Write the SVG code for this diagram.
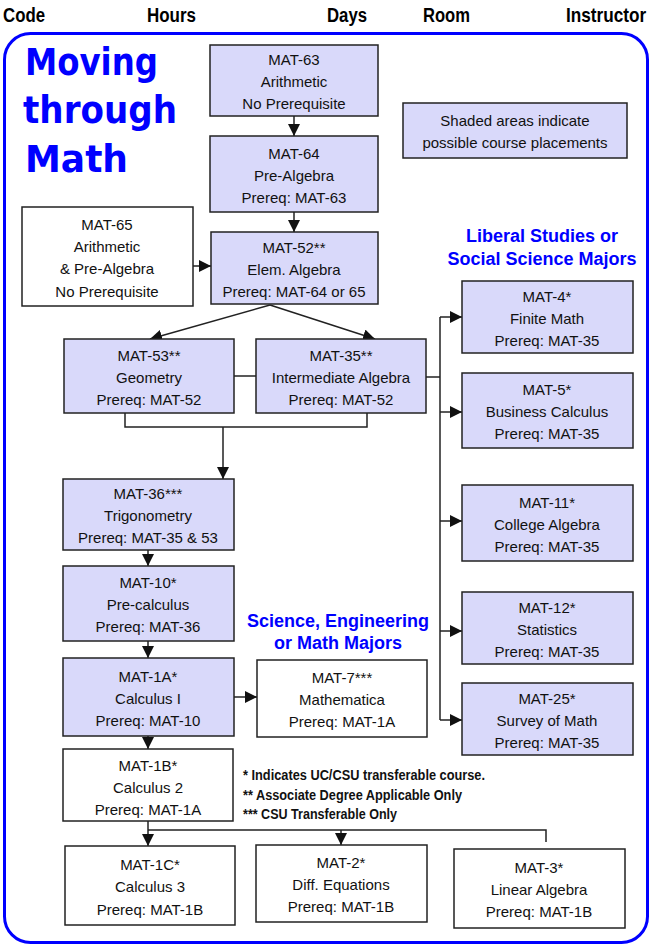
<svg xmlns="http://www.w3.org/2000/svg" width="654" height="949" viewBox="0 0 654 949">
<style>
.hdr{font-family:"Liberation Sans",Arial,Helvetica,sans-serif;font-weight:bold;font-size:20px;fill:#000}
.title{font-family:"Comic Sans MS","DejaVu Sans",sans-serif;font-weight:bold;font-size:37px;fill:#0000ff}
.major{font-family:"Liberation Sans",Arial,Helvetica,sans-serif;font-weight:bold;font-size:18px;fill:#0000ff;text-anchor:middle}
.box{stroke:#222;stroke-width:1.5}
.sh{fill:#d9d9fa}
.wh{fill:#fff}
.t{font-family:"Liberation Sans",Arial,Helvetica,sans-serif;font-size:15px;fill:#111;text-anchor:middle}
.note{font-family:"Liberation Sans",Arial,Helvetica,sans-serif;font-weight:bold;font-size:14px;fill:#111}
.c{fill:none;stroke:#222;stroke-width:1.5}
</style>
<defs>
<marker id="ah" viewBox="0 0 12 12" refX="12" refY="6" markerWidth="12" markerHeight="12" markerUnits="userSpaceOnUse" orient="auto">
<path d="M0,0 L12,6 L0,12 z" fill="#111"/>
</marker>
</defs>
<rect width="654" height="949" fill="#fff"/>
<g id="header">
<text class="hdr" x="3" y="22" textLength="42" lengthAdjust="spacingAndGlyphs">Code</text>
<text class="hdr" x="147" y="22" textLength="49" lengthAdjust="spacingAndGlyphs">Hours</text>
<text class="hdr" x="327" y="22" textLength="40" lengthAdjust="spacingAndGlyphs">Days</text>
<text class="hdr" x="423" y="22" textLength="47" lengthAdjust="spacingAndGlyphs">Room</text>
<text class="hdr" transform="translate(566,22) scale(0.86,1)">Instructor</text>
</g>
<rect id="frame" x="4.5" y="33.5" width="643" height="909" rx="26" fill="none" stroke="#0000ff" stroke-width="3"/>
<g id="title">
<text class="title" x="25" y="75" textLength="133" lengthAdjust="spacingAndGlyphs">Moving</text>
<text class="title" x="23" y="123" textLength="154" lengthAdjust="spacingAndGlyphs">through</text>
<text class="title" x="25" y="172" textLength="103" lengthAdjust="spacingAndGlyphs">Math</text>
</g>
<g id="labels">
<text class="major" x="542" y="242">Liberal Studies or</text>
<text class="major" x="542" y="265">Social Science Majors</text>
<text class="major" x="338" y="627">Science, Engineering</text>
<text class="major" x="338" y="649">or Math Majors</text>
<text class="note" x="243" y="780" textLength="242" lengthAdjust="spacingAndGlyphs">* Indicates UC/CSU transferable course.</text>
<text class="note" x="243" y="800" textLength="219" lengthAdjust="spacingAndGlyphs">** Associate Degree Applicable Only</text>
<text class="note" x="243" y="819" textLength="154" lengthAdjust="spacingAndGlyphs">*** CSU Transferable Only</text>
</g>
<g id="connectors">
<path class="c" d="M294,116 V136" marker-end="url(#ah)"/>
<path class="c" d="M294,212 V232" marker-end="url(#ah)"/>
<path class="c" d="M193,266 H211" marker-end="url(#ah)"/>
<path class="c" d="M270,305 L150,339" marker-end="url(#ah)"/>
<path class="c" d="M270,305 L375,339" marker-end="url(#ah)"/>
<path class="c" d="M234,376 H256"/>
<path class="c" d="M125,413 V427 H367 V413"/>
<path class="c" d="M223,427 V479" marker-end="url(#ah)"/>
<path class="c" d="M426,377 H440"/>
<path class="c" d="M440,317 V720"/>
<path class="c" d="M440,317 H462" marker-end="url(#ah)"/>
<path class="c" d="M440,412 H462" marker-end="url(#ah)"/>
<path class="c" d="M440,521 H462" marker-end="url(#ah)"/>
<path class="c" d="M440,631 H462" marker-end="url(#ah)"/>
<path class="c" d="M440,720 H462" marker-end="url(#ah)"/>
<path class="c" d="M148,550 V566" marker-end="url(#ah)"/>
<path class="c" d="M148,641 V658" marker-end="url(#ah)"/>
<path class="c" d="M234,697 H257" marker-end="url(#ah)"/>
<path class="c" d="M148,736 V749" marker-end="url(#ah)"/>
<path class="c" d="M148,821 V846" marker-end="url(#ah)"/>
<path class="c" d="M148,830 H546 V842"/>
<path class="c" d="M341,830 V845" marker-end="url(#ah)"/>
</g>
<g id="legend">
<rect class="box sh" x="403" y="103" width="224" height="55"/>
<text class="t" x="515" y="126">Shaded areas indicate</text>
<text class="t" x="515" y="148">possible course placements</text>
</g>
<g id="mat63"><rect class="box sh" x="210" y="45" width="168" height="71"/>
<text class="t" x="294" y="65">MAT-63</text><text class="t" x="294" y="87">Arithmetic</text><text class="t" x="294" y="109">No Prerequisite</text></g>
<g id="mat64"><rect class="box sh" x="210" y="136" width="168" height="76"/>
<text class="t" x="294" y="159">MAT-64</text><text class="t" x="294" y="181">Pre-Algebra</text><text class="t" x="294" y="203">Prereq: MAT-63</text></g>
<g id="mat65"><rect class="box wh" x="22" y="207" width="171" height="99"/>
<text class="t" x="107" y="230">MAT-65</text><text class="t" x="107" y="252">Arithmetic</text><text class="t" x="107" y="274">&amp; Pre-Algebra</text><text class="t" x="107" y="297">No Prerequisite</text></g>
<g id="mat52"><rect class="box sh" x="211" y="232" width="167" height="72"/>
<text class="t" x="294" y="253">MAT-52**</text><text class="t" x="294" y="275">Elem. Algebra</text><text class="t" x="294" y="297">Prereq: MAT-64 or 65</text></g>
<g id="mat53"><rect class="box sh" x="64" y="339" width="170" height="74"/>
<text class="t" x="149" y="361">MAT-53**</text><text class="t" x="149" y="383">Geometry</text><text class="t" x="149" y="405">Prereq: MAT-52</text></g>
<g id="mat35"><rect class="box sh" x="256" y="339" width="170" height="74"/>
<text class="t" x="341" y="361">MAT-35**</text><text class="t" x="341" y="383">Intermediate Algebra</text><text class="t" x="341" y="405">Prereq: MAT-52</text></g>
<g id="mat36"><rect class="box sh" x="63" y="479" width="171" height="71"/>
<text class="t" x="148" y="499">MAT-36***</text><text class="t" x="148" y="521">Trigonometry</text><text class="t" x="148" y="543">Prereq: MAT-35 &amp; 53</text></g>
<g id="mat10"><rect class="box sh" x="63" y="566" width="171" height="75"/>
<text class="t" x="148" y="588">MAT-10*</text><text class="t" x="148" y="610">Pre-calculus</text><text class="t" x="148" y="632">Prereq: MAT-36</text></g>
<g id="mat1a"><rect class="box sh" x="63" y="658" width="171" height="78"/>
<text class="t" x="148" y="682">MAT-1A*</text><text class="t" x="148" y="704">Calculus I</text><text class="t" x="148" y="726">Prereq: MAT-10</text></g>
<g id="mat7"><rect class="box wh" x="257" y="660" width="170" height="77"/>
<text class="t" x="342" y="683">MAT-7***</text><text class="t" x="342" y="705">Mathematica</text><text class="t" x="342" y="727">Prereq: MAT-1A</text></g>
<g id="mat1b"><rect class="box wh" x="63" y="749" width="170" height="72"/>
<text class="t" x="148" y="771">MAT-1B*</text><text class="t" x="148" y="793">Calculus 2</text><text class="t" x="148" y="815">Prereq: MAT-1A</text></g>
<g id="mat1c"><rect class="box wh" x="65" y="846" width="170" height="79"/>
<text class="t" x="150" y="870">MAT-1C*</text><text class="t" x="150" y="892">Calculus 3</text><text class="t" x="150" y="915">Prereq: MAT-1B</text></g>
<g id="mat2"><rect class="box wh" x="256" y="845" width="171" height="77"/>
<text class="t" x="341" y="868">MAT-2*</text><text class="t" x="341" y="890">Diff. Equations</text><text class="t" x="341" y="912">Prereq: MAT-1B</text></g>
<g id="mat3"><rect class="box wh" x="454" y="849" width="171" height="79"/>
<text class="t" x="539" y="873">MAT-3*</text><text class="t" x="539" y="895">Linear Algebra</text><text class="t" x="539" y="917">Prereq: MAT-1B</text></g>
<g id="mat4"><rect class="box sh" x="462" y="281" width="171" height="72"/>
<text class="t" x="547" y="302">MAT-4*</text><text class="t" x="547" y="324">Finite Math</text><text class="t" x="547" y="346">Prereq: MAT-35</text></g>
<g id="mat5"><rect class="box sh" x="462" y="373" width="171" height="75"/>
<text class="t" x="547" y="395">MAT-5*</text><text class="t" x="547" y="417">Business Calculus</text><text class="t" x="547" y="439">Prereq: MAT-35</text></g>
<g id="mat11"><rect class="box sh" x="462" y="485" width="171" height="76"/>
<text class="t" x="547" y="508">MAT-11*</text><text class="t" x="547" y="530">College Algebra</text><text class="t" x="547" y="552">Prereq: MAT-35</text></g>
<g id="mat12"><rect class="box sh" x="462" y="592" width="171" height="72"/>
<text class="t" x="547" y="613">MAT-12*</text><text class="t" x="547" y="635">Statistics</text><text class="t" x="547" y="657">Prereq: MAT-35</text></g>
<g id="mat25"><rect class="box sh" x="462" y="683" width="171" height="72"/>
<text class="t" x="547" y="704">MAT-25*</text><text class="t" x="547" y="726">Survey of Math</text><text class="t" x="547" y="748">Prereq: MAT-35</text></g>
</svg>
